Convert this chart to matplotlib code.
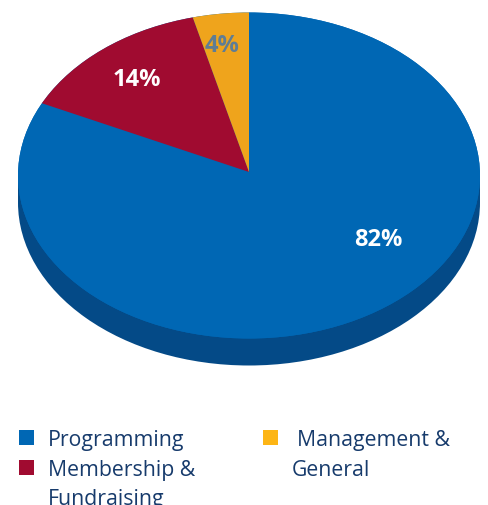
"""Budget split shown as a tilted pie with a darker rim."""

import matplotlib
matplotlib.use("Agg")
import matplotlib.pyplot as plt
from matplotlib.patches import Ellipse, Rectangle, Wedge
from matplotlib.transforms import Affine2D

# Chart data
categories = ["Programming", "Membership &\nFundraising", "Management &\nGeneral"]
shares = [82, 14, 4]
share_labels = ["82%", "14%", "4%"]
colors = ["#0067B4", "#A00B30", "#EFA41C"]
swatch_colors = ["#0067B4", "#A00B30", "#FDB515"]
label_colors = ["white", "white", "#5F7D94"]
rim_color = "#044A87"
text_color = "#173B6C"

plt.rcParams["font.family"] = ["Open Sans", "DejaVu Sans"]

W, H = 489, 506
fig = plt.figure(figsize=(W / 100, H / 100), dpi=100)
ax = fig.add_axes([0, 0, 1, 1])
ax.set_xlim(0, W)
ax.set_ylim(H, 0)
ax.axis("off")

cx, cy = 249, 176.5
rx, ry = 231, 163
apex_y = 173
depth = 27

# Rim first, pie top goes over it
ax.add_patch(Ellipse((cx, cy + depth), 2 * rx, 2 * ry, color=rim_color, lw=0))
ax.add_patch(Rectangle((cx - rx, cy), 2 * rx, depth, color=rim_color, lw=0))

# Top face outline, the slices get clipped to it
face = Ellipse((cx, cy), 2 * rx, 2 * ry, color=colors[0], lw=0)
ax.add_patch(face)

# y axis is inverted, so angles run clockwise on screen from 12 o'clock
squash = Affine2D().scale(rx, ry).translate(cx, apex_y) + ax.transData
start = -90.0
for share, color in zip(shares, colors):
    end = start + share * 3.6
    wedge = Wedge((0, 0), 1.1, start, end, color=color, lw=0, transform=squash)
    ax.add_patch(wedge)
    wedge.set_clip_path(face)
    start = end

label_pos = [(378, 240), (137, 80), (222, 46)]
for (x, y), text, color in zip(label_pos, share_labels, label_colors):
    ax.text(x, y, text, color=color, fontsize=17, fontweight="bold", ha="center", va="center")

# Legend is laid out by hand to keep the two-column wrap
swatch_pos = [(18.5, 431), (18.5, 461), (262.5, 431)]
line_pos = [[(48, 446)], [(48, 476), (48, 505)], [(297, 446), (292, 476)]]
for (bx, by), lines, name, color in zip(swatch_pos, line_pos, categories, swatch_colors):
    ax.add_patch(Rectangle((bx, by), 15, 15, color=color, lw=0))
    for (tx, ty), part in zip(lines, name.split("\n")):
        ax.text(tx, ty, part, color=text_color, fontsize=15.3, va="baseline")

fig.savefig("out.png", dpi=100)
